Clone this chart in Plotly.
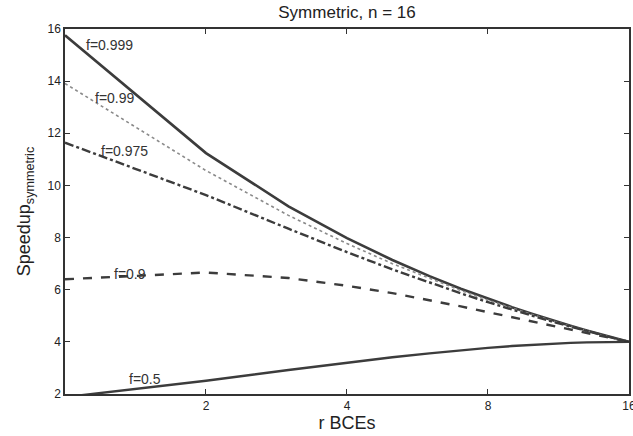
import math
import plotly.graph_objects as go

# Number of BCEs per core (r), chip budget n = 16
r_bces = [1, 2, 3, 4, 5, 6, 7, 8, 9, 10, 11, 12, 13, 14, 15, 16]

speedup_f0999 = [15.76, 11.24, 9.20, 7.98, 7.14, 6.52, 6.04, 5.65,
                 5.33, 5.06, 4.82, 4.62, 4.44, 4.28, 4.13, 4.00]
speedup_f099 = [13.91, 10.57, 8.85, 7.77, 7.00, 6.43, 5.97, 5.60,
                5.29, 5.03, 4.80, 4.60, 4.43, 4.27, 4.13, 4.00]
speedup_f0975 = [11.64, 9.63, 8.34, 7.44, 6.78, 6.27, 5.86, 5.52,
                 5.23, 4.99, 4.77, 4.58, 4.41, 4.26, 4.12, 4.00]
speedup_f09 = [6.40, 6.66, 6.45, 6.15, 5.87, 5.60, 5.36, 5.14,
               4.95, 4.77, 4.61, 4.47, 4.34, 4.22, 4.10, 4.00]
speedup_f05 = [1.88, 2.51, 2.92, 3.20, 3.41, 3.56, 3.68, 3.77,
               3.84, 3.89, 3.93, 3.96, 3.98, 3.99, 4.00, 4.00]

x_ticks = [2, 4, 8, 16]
x_minor_ticks = [1.2, 1.4, 1.6, 1.8]
y_ticks = [2, 4, 6, 8, 10, 12, 14, 16]

DARK = "#3c3c3c"
FONT = "Liberation Sans, Arial, sans-serif"

series = [
    ("f=0.999", speedup_f0999, dict(color=DARK, width=2.6, dash="solid")),
    ("f=0.99", speedup_f099, dict(color="#8a8a8a", width=1.6, dash="dot")),
    ("f=0.975", speedup_f0975, dict(color=DARK, width=2.4, dash="dashdot")),
    ("f=0.9", speedup_f09, dict(color=DARK, width=2.4, dash="dash")),
    ("f=0.5", speedup_f05, dict(color=DARK, width=2.4, dash="solid")),
]

fig = go.Figure()
for name, ys, style in series:
    fig.add_trace(go.Scatter(x=r_bces, y=ys, mode="lines", name=name,
                             line=style, showlegend=False))

# In-plot curve labels (x given in r units, converted for the log axis)
label_pos = [
    ("f=0.999", 1.247, 15.38),
    ("f=0.99", 1.279, 13.34),
    ("f=0.975", 1.343, 11.33),
    ("f=0.9", 1.377, 6.62),
    ("f=0.5", 1.482, 2.56),
]
for text, lx, ly in label_pos:
    fig.add_annotation(x=math.log10(lx), y=ly, xref="x", yref="y", text=text,
                       showarrow=False, xanchor="center", yanchor="middle",
                       font=dict(family=FONT, size=14, color="#333333"))

# Short minor ticks between 1 and 2 along the bottom and top frame
for v in x_minor_ticks:
    lv = math.log10(v)
    for y0, y1 in ((0, 0.01), (1, 0.99)):
        fig.add_shape(type="line", xref="x", yref="paper",
                      x0=lv, x1=lv, y0=y0, y1=y1, layer="above",
                      line=dict(color="#333333", width=1.2))

fig.update_layout(
    width=633, height=436,
    margin=dict(l=65, r=4, t=29, b=42, autoexpand=False),
    paper_bgcolor="white", plot_bgcolor="white",
    font=dict(family=FONT, color="#222222"),
    title=dict(text="Symmetric, n = 16", xref="paper", x=0.5,
               xanchor="center", yref="container", y=0.972, yanchor="middle",
               font=dict(family=FONT, size=17, color="#222222")),
)

fig.update_xaxes(
    type="log", range=[0, 1.2042], automargin=False,
    tickmode="array", tickvals=x_ticks, ticktext=[str(v) for v in x_ticks],
    ticks="inside", ticklen=5, tickwidth=1.2, tickcolor="#333333",
    ticklabeloverflow="allow",
    showline=True, linecolor="#333333", linewidth=1.5, mirror="ticks",
    showgrid=False, zeroline=False,
    tickfont=dict(family=FONT, size=12, color="#222222"),
    title=dict(text="r BCEs", standoff=2,
               font=dict(family=FONT, size=18, color="#222222")),
)

fig.update_yaxes(
    range=[2, 16], automargin=False,
    tickmode="array", tickvals=y_ticks,
    ticks="inside", ticklen=5, tickwidth=1.2, tickcolor="#333333",
    showline=True, linecolor="#333333", linewidth=1.5, mirror="ticks",
    showgrid=False, zeroline=False,
    tickfont=dict(family=FONT, size=12, color="#222222"),
    title=dict(text="Speedup<sub>symmetric</sub>", standoff=12,
               font=dict(family=FONT, size=18, color="#222222")),
)

fig.write_html("out.html")
